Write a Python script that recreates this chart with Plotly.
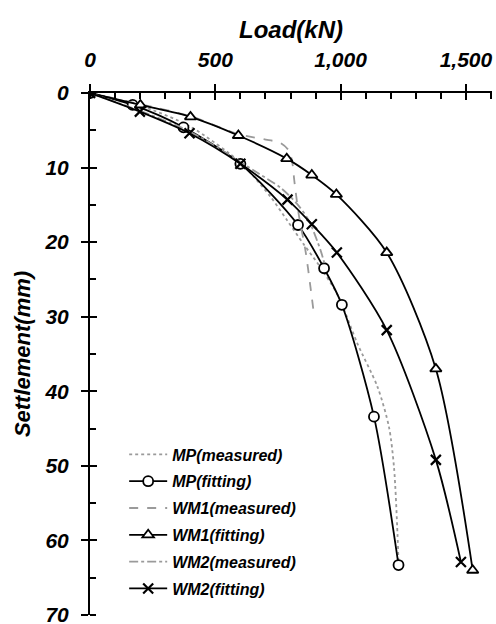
import plotly.graph_objects as go

# ---- data (Load kN, Settlement mm) ----
mp_meas_load = [0, 200, 400, 600, 653, 720, 787, 853, 920, 987, 1013, 1067, 1147, 1193, 1213, 1227, 1231]
mp_meas_set = [0, 1.7, 4.5, 9.3, 11.2, 13.9, 17.1, 20.3, 23.4, 27.0, 29.0, 33.6, 39.4, 44.8, 50.2, 59.2, 63.0]

mp_fit_load = [0, 170, 373, 600, 830, 934, 1005, 1133, 1231]
mp_fit_set = [0, 1.6, 4.6, 9.5, 17.7, 23.5, 28.4, 43.4, 63.3]

wm1_meas_load = [0, 200, 400, 590, 693, 760, 795, 808, 815, 833, 860, 880, 891]
wm1_meas_set = [0, 1.5, 3.1, 5.5, 6.2, 6.7, 7.8, 9.5, 11.7, 16.3, 21.2, 26.1, 29.0]

wm1_fit_load = [0, 201, 401, 592, 785, 885, 983, 1184, 1380, 1527]
wm1_fit_set = [0, 1.6, 3.2, 5.7, 8.8, 11.0, 13.6, 21.4, 37.0, 64.0]

wm2_meas_load = [0, 200, 400, 607, 673, 760, 827, 873, 920, 935]
wm2_meas_set = [0, 2.4, 5.2, 9.4, 10.8, 12.7, 14.9, 17.1, 21.1, 22.8]

wm2_fit_load = [0, 199, 397, 600, 788, 885, 985, 1184, 1380, 1480]
wm2_fit_set = [0, 2.5, 5.4, 9.5, 14.3, 17.6, 21.4, 31.8, 49.2, 62.9]

x_ticks = [0, 500, 1000, 1500]
x_tick_text = ["0", "500", "1,000", "1,500"]
y_ticks = [0, 10, 20, 30, 40, 50, 60, 70]

FONT = "Liberation Sans"
GRAY = "#9a9a9a"

fig = go.Figure()

def fit_trace(x, y, name, symbol, size, grp):
    return go.Scatter(
        x=x, y=y, name=name, mode="lines+markers", legendgroup=grp,
        line=dict(color="black", width=1.8, shape="spline", smoothing=0.8),
        marker=dict(symbol=symbol, size=size, color="white",
                    line=dict(color="black", width=1.8)),
    )

def meas_trace(x, y, name, dash, grp):
    return go.Scatter(
        x=x, y=y, name=name, mode="lines", legendgroup=grp,
        line=dict(color=GRAY, width=1.8, dash=dash, shape="spline", smoothing=0.8),
    )

fig.add_trace(meas_trace(mp_meas_load, mp_meas_set, "MP(measured)", "dot", "a"))
fig.add_trace(fit_trace(mp_fit_load, mp_fit_set, "MP(fitting)", "circle", 10, "b"))
fig.add_trace(meas_trace(wm1_meas_load, wm1_meas_set, "WM1(measured)", "dash", "c"))
fig.add_trace(fit_trace(wm1_fit_load, wm1_fit_set, "WM1(fitting)", "triangle-up", 10, "d"))
fig.add_trace(meas_trace(wm2_meas_load, wm2_meas_set, "WM2(measured)", "dashdot", "e"))
fig.add_trace(go.Scatter(
    x=wm2_fit_load, y=wm2_fit_set, name="WM2(fitting)", mode="lines+markers", legendgroup="f",
    line=dict(color="black", width=1.8, shape="spline", smoothing=0.8),
    marker=dict(symbol="x-thin-open", size=10, color="black",
                line=dict(color="black", width=2.2)),
))
# invisible trace for the overlay axes that draw the inner half of the major ticks
fig.add_trace(go.Scatter(x=[0], y=[0], xaxis="x2", yaxis="y2", mode="markers",
                         marker=dict(opacity=0), showlegend=False, hoverinfo="skip"))

XR = [0, 1604]
YR = [70, 0]
tickfont = dict(family=FONT, size=21, color="black", weight="bold", style="italic")
xtitlefont = dict(family=FONT, size=24, color="black", weight="bold", style="italic")
ytitlefont = dict(family=FONT, size=22, color="black", weight="bold", style="italic")

fig.update_layout(
    width=496, height=624,
    margin=dict(l=90, r=4, t=93, b=9),
    paper_bgcolor="white", plot_bgcolor="white",
    showlegend=True,
    legend=dict(
        x=0.085, y=0.34, xanchor="left", yanchor="top",
        bgcolor="rgba(0,0,0,0)", traceorder="grouped", tracegroupgap=3,
        font=dict(family=FONT, size=16, color="black", weight="bold", style="italic"),
        itemwidth=38,
    ),
    xaxis=dict(
        side="top", range=XR, showgrid=False, zeroline=False, automargin=False,
        showline=True, linecolor="black", linewidth=2,
        tickvals=x_ticks, ticktext=x_tick_text,
        ticks="outside", ticklen=7, tickwidth=2, tickcolor="black",
        ticklabelstandoff=9, ticklabeloverflow="allow",
        minor=dict(dtick=100, tick0=0, ticks="inside", ticklen=6, tickwidth=2, tickcolor="black"),
        tickfont=tickfont,
        title=dict(text="Load(kN)", font=xtitlefont, standoff=2),
    ),
    yaxis=dict(
        range=YR, showgrid=False, zeroline=False, automargin=False,
        showline=True, linecolor="black", linewidth=2,
        tickvals=y_ticks,
        ticks="outside", ticklen=7, tickwidth=2, tickcolor="black",
        ticklabelstandoff=8, ticklabeloverflow="allow",
        minor=dict(dtick=5, tick0=0, ticks="inside", ticklen=6, tickwidth=2, tickcolor="black"),
        tickfont=tickfont,
        title=dict(text="Settlement(mm)", font=ytitlefont, standoff=8),
    ),
    xaxis2=dict(overlaying="x", side="top", range=XR, showgrid=False, zeroline=False,
                showline=False, tickvals=x_ticks, ticks="inside", ticklen=7, tickwidth=2,
                tickcolor="black", showticklabels=False, anchor="y2", automargin=False),
    yaxis2=dict(overlaying="y", side="left", range=YR, showgrid=False, zeroline=False,
                showline=False, tickvals=y_ticks, ticks="inside", ticklen=7, tickwidth=2,
                tickcolor="black", showticklabels=False, anchor="x2", automargin=False),
)

fig.write_html("out.html")
